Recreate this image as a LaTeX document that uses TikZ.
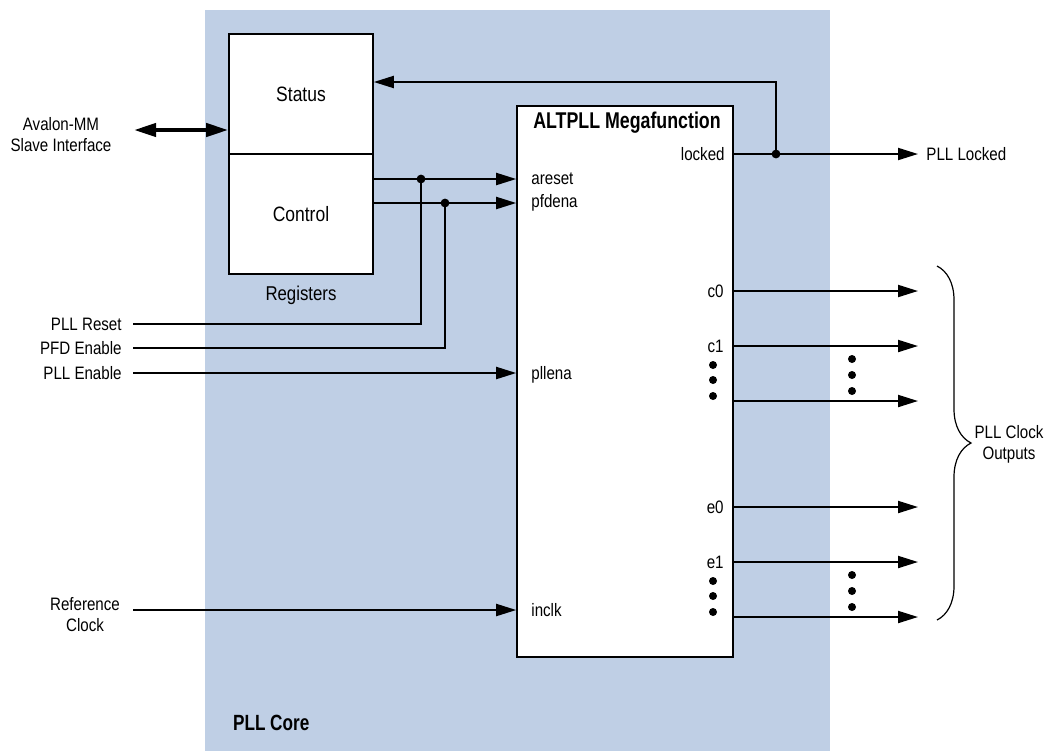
\documentclass[tikz,border=0pt]{standalone}
\usepackage{fontspec}
\setmainfont{Liberation Sans}[FakeStretch=0.84,BoldFeatures={FakeStretch=0.78}]
\usepackage{xcolor}
\usetikzlibrary{arrows.meta,positioning,decorations.pathreplacing}
\definecolor{coreblue}{RGB}{191,207,229}

\begin{document}
\begin{tikzpicture}[
  x=0.5pt, y=-0.5pt,
  font=\fontsize{9}{10.5}\selectfont,
  regbox/.style={draw, line width=0.8pt, fill=white, minimum width=72pt, minimum height=60pt, inner sep=0pt, font=\fontsize{10.4}{12}\selectfont},
  megabox/.style={draw, line width=0.8pt, fill=white, minimum width=108pt, minimum height=275.5pt, inner sep=0pt},
  sig/.style={anchor=east, align=right, inner xsep=5.5pt, inner ysep=0pt},
  port/.style={inner sep=0pt},
  ar/.style={-{Triangle[length=10pt,width=6pt]}, line width=1pt},
  dar/.style={{Triangle[length=11pt,width=6.5pt]}-{Triangle[length=11pt,width=6.5pt]}, line width=2pt},
  wire/.style={line width=1pt}
]
\useasboundingbox (0,0) rectangle (1048,751);

% PLL core area
\fill[coreblue] (205,10) rectangle (830,751);
\node[anchor=west, font=\fontsize{11}{13}\selectfont\bfseries] (core) at (226,723) {PLL Core};

% registers
\node[regbox] (status) at (301,94) {Status};
\node[regbox] (control) at (301,214) {Control};
\node[font=\fontsize{10}{12}\selectfont] (regs) at (301,295) {Registers};

% megafunction
\node[megabox] (mega) at (625,381.5) {};
\node[font=\fontsize{11.4}{13}\selectfont\bfseries] (title) at (627,123) {ALTPLL Megafunction};

% ports
\node[port, anchor=west] (areset) at (531,179) {areset};
\node[port, anchor=west] (pfdena) at (531,203) {pfdena};
\node[port, anchor=west] (pllena) at (531,375) {pllena};
\node[port, anchor=west] (inclk) at (531,610) {inclk};
\node[port, anchor=east] (locked) at (725,154) {locked};
\node[port, anchor=east] (c0) at (724,291) {c0};
\node[port, anchor=east] (c1) at (724,346) {c1};
\node[port, anchor=east] (e0) at (724,507) {e0};
\node[port, anchor=east] (e1) at (724,562) {e1};
\coordinate (cn) at (733,401);
\coordinate (en) at (733,617);

% outside signals
\node[align=center] (avalon) at (61,135) {Avalon-MM\\Slave Interface};
\coordinate (avx) at (134,130);
\node[sig] (rst) at (133,324) {PLL Reset};
\node[sig] (pfd) at (133,348) {PFD Enable};
\node[sig] (ena) at (133,373) {PLL Enable};
\node[align=center] (refclk) at (85,615) {Reference\\Clock};
\coordinate (refx) at (133,610);
\coordinate (outx) at (918,0);
\node[anchor=west, inner sep=0pt] (plllock) at (926,154) {PLL Locked};
\node[align=center] (clkout) at (1009,444) {PLL Clock\\Outputs};

% junctions
\coordinate (jr) at (421,179);
\coordinate (jp) at (445,203);
\coordinate (jl) at (776,154);
\coordinate (fb) at (776,82);

\draw[dar] (avx) -- (status.west |- avx);
\draw[ar] (control.east |- areset) -- (mega.west |- areset);
\draw[ar] (control.east |- pfdena) -- (mega.west |- pfdena);
\draw[wire] (rst.east) -| (jr);
\draw[wire] (pfd.east) -| (jp);
\draw[ar] (ena.east) -- (mega.west |- ena);
\draw[ar] (refx) -- (mega.west |- inclk);
\draw[ar] (mega.east |- locked) -- (outx |- locked);
\draw[ar] (jl) -- (fb) -- (status.east |- fb);
\foreach \p in {c0,c1,cn,e0,e1,en}
  \draw[ar] (mega.east |- \p) -- (outx |- \p);
\foreach \j in {jr,jp,jl}
  \fill (\j) circle (2.2pt);

% ellipsis dots
\foreach \y in {365,380,396,581,596,612}
  \fill (713,\y) circle (2pt);
\foreach \y in {359,375,391,575,591,607}
  \fill (852,\y) circle (2pt);

% brace
\draw[line width=0.6pt, decorate, decoration={brace, amplitude=17pt}] (937,266) -- (937,620);

\end{tikzpicture}
\end{document}
